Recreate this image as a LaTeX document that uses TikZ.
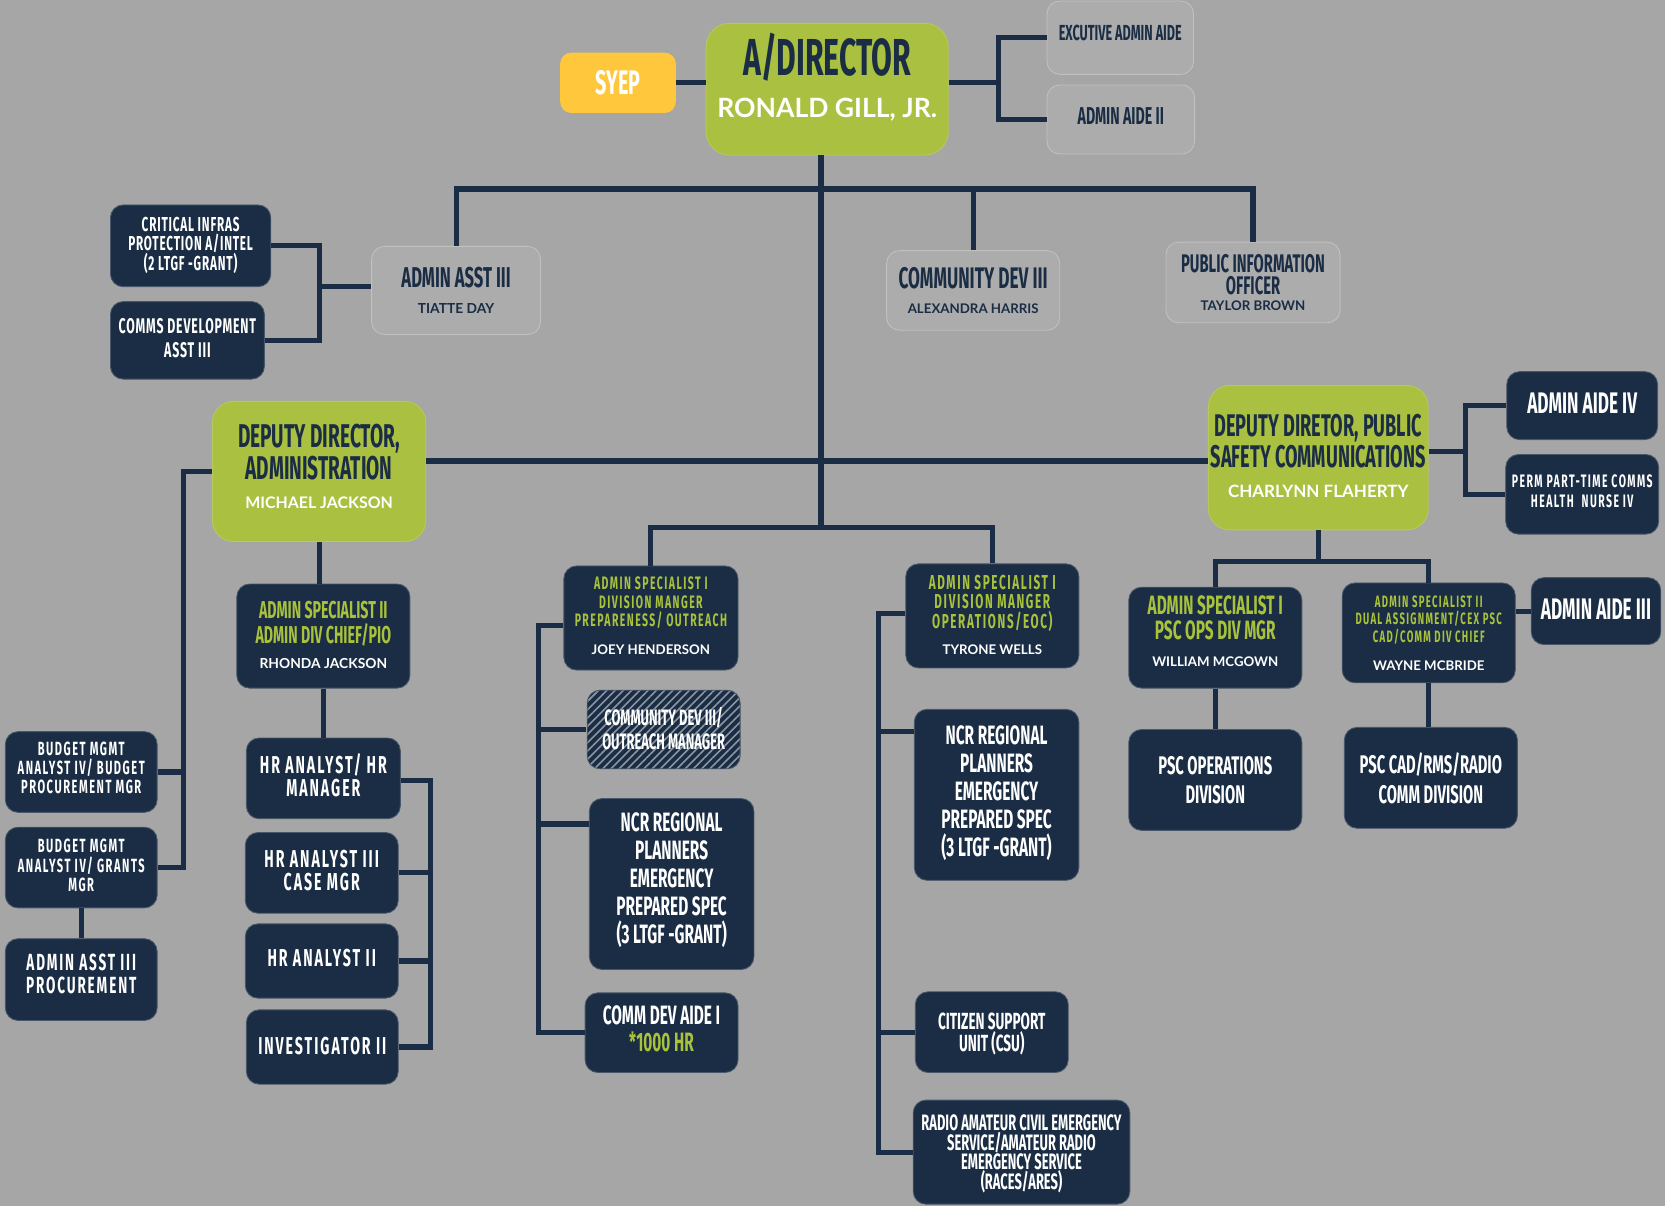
\documentclass[tikz,border=0pt]{standalone}
\usepackage{fontspec}
\usetikzlibrary{patterns.meta}
\newfontfamily\bbf[FakeStretch=0.58]{Fira Sans}
\newfontfamily\bbsf[FakeStretch=0.58,LetterSpace=8]{Fira Sans}
\newfontfamily\bbtf[FakeStretch=0.58,LetterSpace=4]{Fira Sans}
\newfontfamily\latof{Lato}
\definecolor{bgc}{HTML}{A6A6A6}
\definecolor{navy}{HTML}{1A2D44}
\definecolor{lgreen}{HTML}{AAC040}
\definecolor{gtext}{HTML}{A9C23C}
\definecolor{lgrey}{HTML}{ACACAC}
\definecolor{syel}{HTML}{FFC83C}
\newcommand\nm[2]{{\latof\bfseries\fontsize{#1}{#1}\selectfont #2}}
\newcommand\nmr[2]{{\latof\fontsize{#1}{#1}\selectfont #2}}
\newcommand\lt[2]{{\bbf\fontsize{#1}{#1}\selectfont #2}}
\newcommand\cs{\rule{0pt}{0.69em}}
\begin{document}
\begin{tikzpicture}[x=1pt,y=-1pt,
  bx/.style n args={4}{at={({(#1+#3)/2},{(#2+#4)/2})}, minimum width={#3-#1}, minimum height={#4-#2}},
  box/.style={inner sep=0pt, align=center, rounded corners=12pt, line width=0.8pt, text depth=0pt},
  nbox/.style={box, fill=navy, draw=navy!80!white, text=white},
  gbox/.style={box, fill=lgrey, draw=lgrey!75!white, text=navy},
  grbox/.style={box, fill=lgreen, draw=lgreen!85!white, text=navy, rounded corners=20pt},
  up/.style={text depth={2*(#1)}},
  tf/.style 2 args={font={\bbf\bfseries\fontsize{#1}{#2}\selectfont\lineskiplimit=-100pt\lineskip=0pt}},
  tfs/.style 2 args={font={\bbsf\bfseries\fontsize{#1}{#2}\selectfont\lineskiplimit=-100pt\lineskip=0pt}},
  tft/.style 2 args={font={\bbtf\bfseries\fontsize{#1}{#2}\selectfont\lineskiplimit=-100pt\lineskip=0pt}},
  conn/.style={draw=navy, line width=4.8pt}]
\fill[bgc] (0,0) rectangle (1568,1136);
\useasboundingbox (0,0) rectangle (1568,1136);

% top
\node[grbox, rounded corners=22pt, tf={49}{40}, up=13pt, bx={665}{22}{893}{146}] (dir) {\cs A/DIRECTOR\\\textcolor{white}{\nmr{25}{RONALD GILL, JR.}}};
\node[box, fill=syel, draw=syel, rounded corners=10pt, text=white, tf={32}{32}, bx={528}{50}{636}{106}] (syep) {\cs SYEP};
\node[gbox, tf={20.5}{20}, up=4.5pt, bx={986}{1}{1124}{70}] (exec) {\cs EXCUTIVE ADMIN AIDE};
\node[gbox, tf={23}{23}, up=3.5pt, bx={986}{80}{1125}{145}] (aide2) {\cs ADMIN AIDE II};

\node[gbox, tf={27}{25}, up=-7pt, bx={350}{232}{509}{315}] (aa3) {\cs ADMIN ASST III\\\nm{13}{TIATTE DAY}};
\node[gbox, tf={28}{23}, bx={835}{236}{998}{311}] (cd3) {\cs COMMUNITY DEV III\\\nm{12.5}{ALEXANDRA HARRIS}};
\node[gbox, tf={24}{21}, up=-3.5pt, bx={1098}{228}{1262}{304}] (pio) {\cs PUBLIC INFORMATION\\OFFICER\\[-6.5pt]\nm{12.5}{TAYLOR BROWN}};
\node[nbox, tft={19}{18.5}, up=2pt, bx={104}{193}{255}{270}] (crit) {\cs CRITICAL INFRAS\\PROTECTION A/INTEL\\(2 LTGF -GRANT)};
\node[nbox, tft={20}{23}, up=2pt, bx={104}{284}{249}{357}] (comms) {\cs COMMS DEVELOPMENT\\ASST III};

% deputies
\node[grbox, tf={31}{30}, up=5pt, bx={200}{378}{401}{510}] (depA) {\cs DEPUTY DIRECTOR,\\ADMINISTRATION\\[-3pt]\textcolor{white}{\nm{15}{MICHAEL JACKSON}}};
\node[grbox, tf={29.5}{29}, up=1.5pt, bx={1138}{363}{1345}{499}] (depP) {\cs DEPUTY DIRETOR, PUBLIC\\SAFETY COMMUNICATIONS\\[-1pt]\textcolor{white}{\nm{16}{CHARLYNN FLAHERTY}}};
\node[nbox, tf={28}{28}, up=2pt, bx={1419}{350}{1561}{414}] (aide4) {\cs ADMIN AIDE IV};
\node[nbox, tfs={17}{19}, up=3pt, bx={1418}{428}{1562}{503}] (perm) {\cs PERM PART-TIME COMMS\\HEALTH\ \ NURSE IV};

% middle column
\node[nbox, text=gtext, tfs={17}{17.5}, up=2pt, bx={531}{533}{695}{631}] (joey) {\cs ADMIN SPECIALIST I\\DIVISION MANGER\\PREPARENESS/ OUTREACH\\[9pt]\textcolor{white}{\nm{12.5}{JOEY HENDERSON}}};
\node[nbox, text=gtext, tfs={19}{18.5}, up=1pt, bx={853}{531}{1016}{629}] (tyr) {\cs ADMIN SPECIALIST I\\DIVISION MANGER\\OPERATIONS/EOC)\\[6pt]\textcolor{white}{\nm{12.5}{TYRONE WELLS}}};
\node[nbox, preaction={fill=navy}, pattern={Lines[angle=45,distance=5.5pt,line width=1.5pt]}, pattern color=navy!50!white, tf={21}{22}, up=1pt, bx={553}{650}{697}{724}] (cdo) {\cs COMMUNITY DEV III/\\OUTREACH MANAGER};
\node[nbox, tf={25}{26.5}, up=5.5pt, bx={555}{752}{710}{913}] (ncrL) {\cs NCR REGIONAL\\PLANNERS\\EMERGENCY\\PREPARED SPEC\\\lt{25}{(3 LTGF -GRANT)}};
\node[nbox, tf={25}{25.5}, up=3.5pt, bx={551}{935}{695}{1010}] (cda) {\cs COMM DEV AIDE I\\\textcolor{gtext}{*1000 HR}};
\node[nbox, tf={25}{26.5}, up=3.5pt, bx={861}{668}{1016}{829}] (ncrR) {\cs NCR REGIONAL\\PLANNERS\\EMERGENCY\\PREPARED SPEC\\\lt{25}{(3 LTGF -GRANT)}};
\node[nbox, tf={22}{21}, bx={862}{934}{1006}{1010}] (csu) {\cs CITIZEN SUPPORT\\UNIT (CSU)};
\node[nbox, tf={21}{18.7}, up=-1pt, bx={860}{1036}{1064}{1134}] (races) {\cs RADIO AMATEUR CIVIL EMERGENCY\\SERVICE/AMATEUR RADIO\\EMERGENCY SERVICE\\(RACES/ARES)};

% right column
\node[nbox, text=gtext, tf={25}{23}, up=6pt, bx={1063}{553}{1226}{648}] (wm) {\cs ADMIN SPECIALIST I\\PSC OPS DIV MGR\\[3pt]\textcolor{white}{\nm{12.5}{WILLIAM MCGOWN}}};
\node[nbox, text=gtext, tfs={15.5}{16.5}, bx={1264}{549}{1427}{643}] (wayne) {\cs ADMIN SPECIALIST II\\DUAL ASSIGNMENT/CEX PSC\\CAD/COMM DIV CHIEF\\[9.5pt]\textcolor{white}{\nm{12.5}{WAYNE MCBRIDE}}};
\node[nbox, tf={28}{28}, up=1.5pt, bx={1442}{544}{1564}{607}] (aide3) {\cs ADMIN AIDE III};
\node[nbox, tf={24}{28}, bx={1063}{687}{1226}{782}] (pscops) {\cs PSC OPERATIONS\\DIVISION};
\node[nbox, tf={24}{28}, up=-2.5pt, bx={1266}{685}{1429}{780}] (psccad) {\cs PSC CAD/RMS/RADIO\\COMM DIVISION};

% left side
\node[nbox, text=gtext, tf={23}{24}, up=1pt, bx={223}{550}{386}{648}] (rhonda) {\cs ADMIN SPECIALIST II\\ADMIN DIV CHIEF/PIO\\[-0.5pt]\textcolor{white}{\nm{13}{RHONDA JACKSON}}};
\node[nbox, tfs={23}{22}, up=3pt, bx={232}{695}{377}{771}] (hr1) {\cs HR ANALYST/ HR\\MANAGER};
\node[nbox, tfs={23}{22}, up=2.5pt, bx={231}{784}{375}{860}] (hr2) {\cs HR ANALYST III\\CASE MGR};
\node[nbox, tfs={23}{22}, up=3pt, bx={231}{870}{375}{940}] (hr3) {\cs HR ANALYST II};
\node[nbox, tfs={23}{22}, up=1pt, bx={232}{951}{375}{1021}] (inv) {\cs INVESTIGATOR II};
\node[nbox, tfs={18}{18}, up=4pt, bx={5}{689}{148}{765}] (bud1) {\cs BUDGET MGMT\\ANALYST IV/ BUDGET\\PROCUREMENT MGR};
\node[nbox, tfs={18}{18.5}, up=2pt, bx={5}{779}{148}{855}] (bud2) {\cs BUDGET MGMT\\ANALYST IV/ GRANTS\\MGR};
\node[nbox, tfs={22}{22}, up=5.5pt, bx={5}{884}{148}{961}] (proc) {\cs ADMIN ASST III\\PROCUREMENT};

% junction coordinates
\coordinate (b1) at (940,78);
\coordinate (t1) at (773,178);
\coordinate (t2) at (773,434);
\coordinate (t3) at (773,497);
\coordinate (b2) at (301,270);
\coordinate (b3) at (1380,425);
\coordinate (b4) at (507,589);
\coordinate (b5) at (507,776);
\coordinate (b6) at (827,578);
\coordinate (b7) at (827,689);
\coordinate (b8) at (1243,529);
\coordinate (b9) at (405,735);
\coordinate (b10) at (173,444);

% connectors
\draw[conn] (syep.east) -- (syep.east -| dir.west);
\draw[conn] (b1 -| dir.east) -- (b1);
\draw[conn] (exec.west) -| (b1 |- aide2.west) -- (aide2.west);
\draw[conn, line width=5.5pt] (t1 |- dir.south) -- (t3);
\draw[conn] (aa3.north) |- (t1) -| (pio.north);
\draw[conn] (cd3.north) -- (cd3.north |- t1);
\draw[conn] (b2 -| aa3.west) -- (b2);
\draw[conn] (crit.east) -| (b2 |- comms.east) -- (comms.east);
\draw[conn, line width=5.5pt] (t2 -| depA.east) -- (t2 -| depP.west);
\draw[conn] (b3 -| depP.east) -- (b3);
\draw[conn] (aide4.west) -| (b3 |- perm.west) -- (perm.west);
\draw[conn] (joey.north) |- (t3) -| (tyr.north);
\draw[conn] (b4 -| joey.west) -- (b4) |- (cda.west);
\draw[conn] (cdo.west) -- (cdo.west -| b4);
\draw[conn] (b5 -| ncrL.west) -- (b5);
\draw[conn] (b6 -| tyr.west) -- (b6) |- (races.west);
\draw[conn] (b7 -| ncrR.west) -- (b7);
\draw[conn] (csu.west) -- (csu.west -| b6);
\draw[conn] (depP.south) -- (depP.south |- b8);
\draw[conn] (wm.north) |- (b8) -| (wayne.north);
\draw[conn] (aide3.west -| wayne.east) -- (aide3.west);
\draw[conn] (wm.south) -- (wm.south |- pscops.north);
\draw[conn] (wayne.south) -- (wayne.south |- psccad.north);
\draw[conn] (depA.south) -- (depA.south |- rhonda.north);
\draw[conn] (rhonda.south) -- (rhonda.south |- hr1.north);
\draw[conn] (b9 -| hr1.east) -- (b9) |- (inv.east);
\draw[conn] (hr2.east) -- (hr2.east -| b9);
\draw[conn] (hr3.east) -- (hr3.east -| b9);
\draw[conn] (depA.west) -| (b10 |- bud2.east) -- (bud2.east);
\draw[conn] (bud1.east) -- (bud1.east -| b10);
\draw[conn] (bud2.south) -- (bud2.south |- proc.north);
\end{tikzpicture}
\end{document}
